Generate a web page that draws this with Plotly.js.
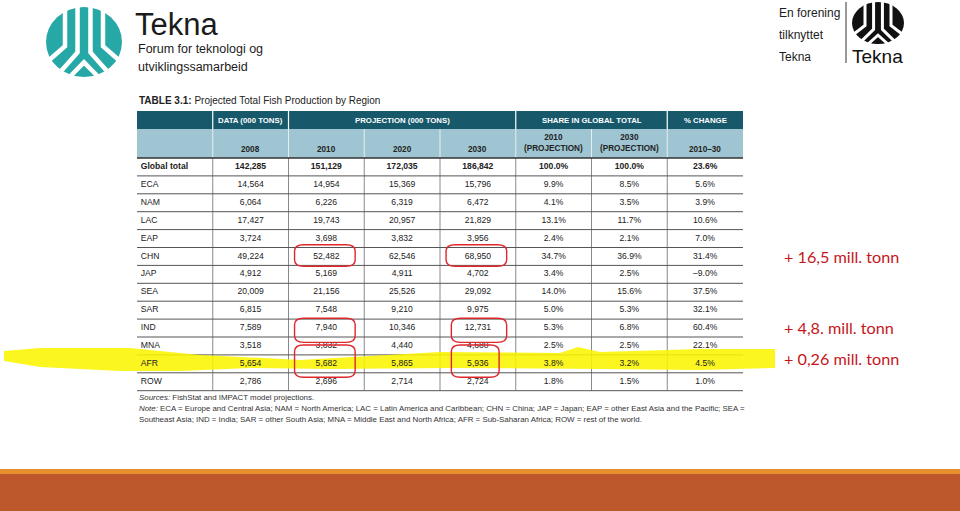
<!DOCTYPE html>
<html><head><meta charset="utf-8">
<script src="https://cdn.plot.ly/plotly-3.0.1.min.js"></script>
<style>html,body{margin:0;padding:0;background:#fff}#chart{width:960px;height:511px}</style>
</head><body><div id="chart"></div>
<script>
// ---- data ----
const regions = ['Global total','ECA','NAM','LAC','EAP','CHN','JAP','SEA','SAR','IND','MNA','AFR','ROW'];
const prod2008 = [142285,14564,6064,17427,3724,49224,4912,20009,6815,7589,3518,5654,2786];
const prod2010 = [151129,14954,6226,19743,3698,52482,5169,21156,7548,7940,3832,5682,2696];
const prod2020 = [172035,15369,6319,20957,3832,62546,4911,25526,9210,10346,4440,5865,2714];
const prod2030 = [186842,15796,6472,21829,3956,68950,4702,29092,9975,12731,4680,5936,2724];
const share2010 = [100.0,9.9,4.1,13.1,2.4,34.7,3.4,14.0,5.0,5.3,2.5,3.8,1.8];
const share2030 = [100.0,8.5,3.5,11.7,2.1,36.9,2.5,15.6,5.3,6.8,2.5,3.2,1.5];
const change1030 = [23.6,5.6,3.9,10.6,7.0,31.4,-9.0,37.5,32.1,60.4,22.1,4.5,1.0];
const groupHeaders = ['DATA (000 TONS)','PROJECTION (000 TONS)','SHARE IN GLOBAL TOTAL','% CHANGE'];
const groupSpans = [[1,2],[2,5],[5,7],[7,8]];
const columnHeaders = ['2008','2010','2020','2030','2010<br>(PROJECTION)','2030<br>(PROJECTION)','2010–30'];
const circledCells = [['CHN','2010'],['CHN','2030'],['IND','2010'],['IND','2030'],['AFR','2010'],['AFR','2030']];
const highlightedRow = 'AFR';
const increases = ['+ 16,5 mill. tonn','+ 4,8. mill. tonn','+ 0,26 mill. tonn'];

// ---- geometry ----
const W=960,H=511, tableLeft=137, colW=75.75, bodyTop=158, rowH=17.9;
const X=px=>(px-tableLeft)/colW, Y=py=>(py-bodyTop)/rowH;
const PX=px=>px/W, PY=py=>1-py/H;
const nCols=8, nRows=regions.length;
const darkTop=Y(111), darkBot=Y(129);
const FN='"Liberation Sans", Arial, sans-serif';

const fmtN=v=>v.toLocaleString('en-US');
const fmtP=v=>(v<0?'–'+Math.abs(v).toFixed(1):v.toFixed(1))+'%';
const bold=(s,i)=>i===0?'<b>'+s+'</b>':s;

const cols=[prod2008.map(fmtN),prod2010.map(fmtN),prod2020.map(fmtN),prod2030.map(fmtN),share2010.map(fmtP),share2030.map(fmtP),change1030.map(fmtP)];
const rowsY=regions.map((_,i)=>i+0.5);
const traces=[];
traces.push({type:'scatter',mode:'text',x:regions.map(()=>0.05),y:rowsY,text:regions.map(bold),textposition:'middle right',
  textfont:{family:FN,size:8.6,color:'#222'},hoverinfo:'skip',cliponaxis:false});
cols.forEach((c,k)=>{
  traces.push({type:'scatter',mode:'text',x:c.map(()=>k+1.5),y:rowsY,text:c.map(bold),textposition:'middle center',
    textfont:{family:FN,size:8.6,color:'#222'},hoverinfo:'skip',cliponaxis:false});
});

const shapes=[];
// header bands
shapes.push({type:'rect',xref:'x',yref:'y',x0:0,x1:nCols,y0:darkTop,y1:darkBot,fillcolor:'#17596b',line:{width:0},layer:'below'});
shapes.push({type:'rect',xref:'x',yref:'y',x0:0,x1:nCols,y0:darkBot,y1:0,fillcolor:'#9fc5d2',line:{width:0},layer:'below'});
[1,2,5,7].forEach(x=>shapes.push({type:'line',xref:'x',yref:'y',x0:x,x1:x,y0:darkTop,y1:darkBot,line:{color:'#ffffff',width:1.2},layer:'below'}));
for(let x=1;x<nCols;x++) shapes.push({type:'line',xref:'x',yref:'y',x0:x,x1:x,y0:darkBot,y1:0,line:{color:'#e6eef1',width:1},layer:'below'});
// body lines
for(let x=1;x<nCols;x++) shapes.push({type:'line',xref:'x',yref:'y',x0:x,x1:x,y0:0,y1:nRows,line:{color:'#8a8a8a',width:1},layer:'below'});
for(let r=0;r<=nRows;r++) shapes.push({type:'line',xref:'x',yref:'y',x0:0,x1:nCols,y0:r,y1:r,line:{color:r===0?'#333':'#555',width:r===0?1.6:1},layer:'below'});
// highlight (hand-drawn yellow marker) across the AFR row
const hr=regions.indexOf(highlightedRow);
const hp=[[4,352],[40,349],[130,349],[200,356],[300,361],[440,353],[560,354],[578,348],[600,353],[700,350],[775,350],
          [775,369],[700,371],[600,370],[450,369],[330,370],[250,369],[180,372],[120,372],[40,368],[4,362]];
let hpath=hp.map((p,i)=>(i?'L':'M')+X(p[0])+','+(hr+(p[1]-356)/rowH)).join(' ')+' Z';
shapes.push({type:'path',xref:'x',yref:'y',path:hpath,fillcolor:'rgba(250,245,0,0.88)',line:{width:0},layer:'below'});
// red circles
const colIdx=h=>['2008','2010','2020','2030'].indexOf(h)+1;
function rr(x0,x1,y0,y1,rx,ry){
  return `M${x0+rx},${y0} L${x1-rx},${y0} Q${x1},${y0} ${x1},${y0+ry} L${x1},${y1-ry} Q${x1},${y1} ${x1-rx},${y1} L${x0+rx},${y1} Q${x0},${y1} ${x0},${y1-ry} L${x0},${y0+ry} Q${x0},${y0} ${x0+rx},${y0} Z`;
}
const circPad={CHN:[-0.15,1.05],IND:[-0.05,1.3],AFR:[-0.55,1.25]};
circledCells.forEach(([reg,yr])=>{
  const r=regions.indexOf(reg), c=colIdx(yr);
  const p=circPad[reg];
  const x0=c+(yr==='2030'&&reg!=='CHN'?0.15:0.08), x1=c+(yr==='2030'&&reg==='AFR'?0.78:0.88);
  shapes.push({type:'path',xref:'x',yref:'y',path:rr(x0,x1,r+p[0],r+p[1],0.12,0.35),line:{color:'#e0262b',width:1.4},fillcolor:'rgba(0,0,0,0)',layer:'above'});
});
// bottom bar
shapes.push({type:'rect',xref:'paper',yref:'paper',x0:0,x1:1,y0:0,y1:PY(469),fillcolor:'#bd582c',line:{width:0}});
shapes.push({type:'rect',xref:'paper',yref:'paper',x0:0,x1:1,y0:PY(474),y1:PY(469),fillcolor:'#e8902e',line:{width:0}});

// logos
function logo(cx,cy,rx,ry,color,lw){
  shapes.push({type:'circle',xref:'paper',yref:'paper',x0:PX(cx-rx),x1:PX(cx+rx),y0:PY(cy+ry),y1:PY(cy-ry),fillcolor:color,line:{width:0}});
  const m=(u,v)=>PX(cx+u*rx)+','+PY(cy+v*ry);
  const lines=[[[-0.5,-1.1],[-0.5,0.12],[-0.9,0.5]],[[-0.17,-1.1],[-0.17,0.3],[-0.62,0.85]],
               [[0.17,-1.1],[0.17,0.3],[0.62,0.85]],[[0.5,-1.1],[0.5,0.12],[0.9,0.5]],[[-0.38,1.0],[0,0.58],[0.38,1.0]]];
  lines.forEach(l=>shapes.push({type:'path',xref:'paper',yref:'paper',path:'M'+m(...l[0])+' L'+m(...l[1])+' L'+m(...l[2]),line:{color:'#fff',width:lw},fillcolor:'rgba(0,0,0,0)'}));
}
logo(84,42,38,35,'#26a9a6',4.5);
logo(878,23,26,21,'#111',3);
shapes.push({type:'line',xref:'paper',yref:'paper',x0:PX(846),x1:PX(846),y0:PY(2),y1:PY(63),line:{color:'#333',width:1}});

const ann=[];
const A=(o)=>ann.push(Object.assign({showarrow:false,xref:'paper',yref:'paper'},o));
// group headers
groupHeaders.forEach((g,i)=>ann.push({xref:'x',yref:'y',x:(groupSpans[i][0]+groupSpans[i][1])/2,y:(darkTop+darkBot)/2,text:'<b>'+g+'</b>',showarrow:false,
  font:{family:FN,size:7.8,color:'#fff'}}));
columnHeaders.forEach((h,i)=>ann.push({xref:'x',yref:'y',x:i+1.5,y:h.includes('<br>')?-0.82:-0.45,text:'<b>'+h+'</b>',showarrow:false,
  font:{family:FN,size:8.2,color:'#222'}}));
// title / notes
A({x:PX(137),y:PY(100),xanchor:'left',yanchor:'middle',text:'<b>TABLE 3.1:</b> Projected Total Fish Production by Region',font:{family:FN,size:10,color:'#222'}});
A({x:PX(137),y:PY(397),xanchor:'left',yanchor:'middle',text:'<i>Sources:</i> FishStat and IMPACT model projections.',font:{family:FN,size:7.9,color:'#333'}});
A({x:PX(137),y:PY(408),xanchor:'left',yanchor:'middle',text:'<i>Note:</i> ECA = Europe and Central Asia; NAM = North America; LAC = Latin America and Caribbean; CHN = China; JAP = Japan; EAP = other East Asia and the Pacific; SEA =',font:{family:FN,size:7.9,color:'#333'}});
A({x:PX(137),y:PY(419),xanchor:'left',yanchor:'middle',text:'Southeast Asia; IND = India; SAR = other South Asia; MNA = Middle East and North Africa; AFR = Sub-Saharan Africa; ROW = rest of the world.',font:{family:FN,size:7.9,color:'#333'}});
// increases
const incY=[256,327,358];
increases.forEach((t,i)=>A({x:PX(782),y:PY(incY[i]),xanchor:'left',yanchor:'middle',text:t,font:{family:'Lato, sans-serif',size:16.2,color:'#c4161c'}}));
// logo texts
A({x:PX(133),y:PY(24),xanchor:'left',yanchor:'middle',text:'Tekna',font:{family:FN,size:31,color:'#1b1b1b'}});
A({x:PX(136),y:PY(49),xanchor:'left',yanchor:'middle',text:'Forum for teknologi og',font:{family:FN,size:12.5,color:'#1b1b1b'}});
A({x:PX(136),y:PY(67),xanchor:'left',yanchor:'middle',text:'utviklingssamarbeid',font:{family:FN,size:12.5,color:'#1b1b1b'}});
A({x:PX(777),y:PY(13),xanchor:'left',yanchor:'middle',text:'En forening',font:{family:FN,size:12,color:'#1b1b1b'}});
A({x:PX(777),y:PY(35),xanchor:'left',yanchor:'middle',text:'tilknyttet',font:{family:FN,size:12,color:'#1b1b1b'}});
A({x:PX(777),y:PY(57),xanchor:'left',yanchor:'middle',text:'Tekna',font:{family:FN,size:12,color:'#1b1b1b'}});
A({x:PX(877),y:PY(56),xanchor:'center',yanchor:'middle',text:'Tekna',font:{family:FN,size:19,color:'#111'}});

const layout={width:W,height:H,margin:{l:0,r:0,t:0,b:0},showlegend:false,paper_bgcolor:'#fff',plot_bgcolor:'rgba(0,0,0,0)',
  xaxis:{range:[X(0),X(W)],visible:false,fixedrange:true},
  yaxis:{range:[Y(H),Y(0)],visible:false,fixedrange:true},
  shapes:shapes,annotations:ann};
Plotly.newPlot('chart',traces,layout,{staticPlot:true,displayModeBar:false});
</script></body></html>
